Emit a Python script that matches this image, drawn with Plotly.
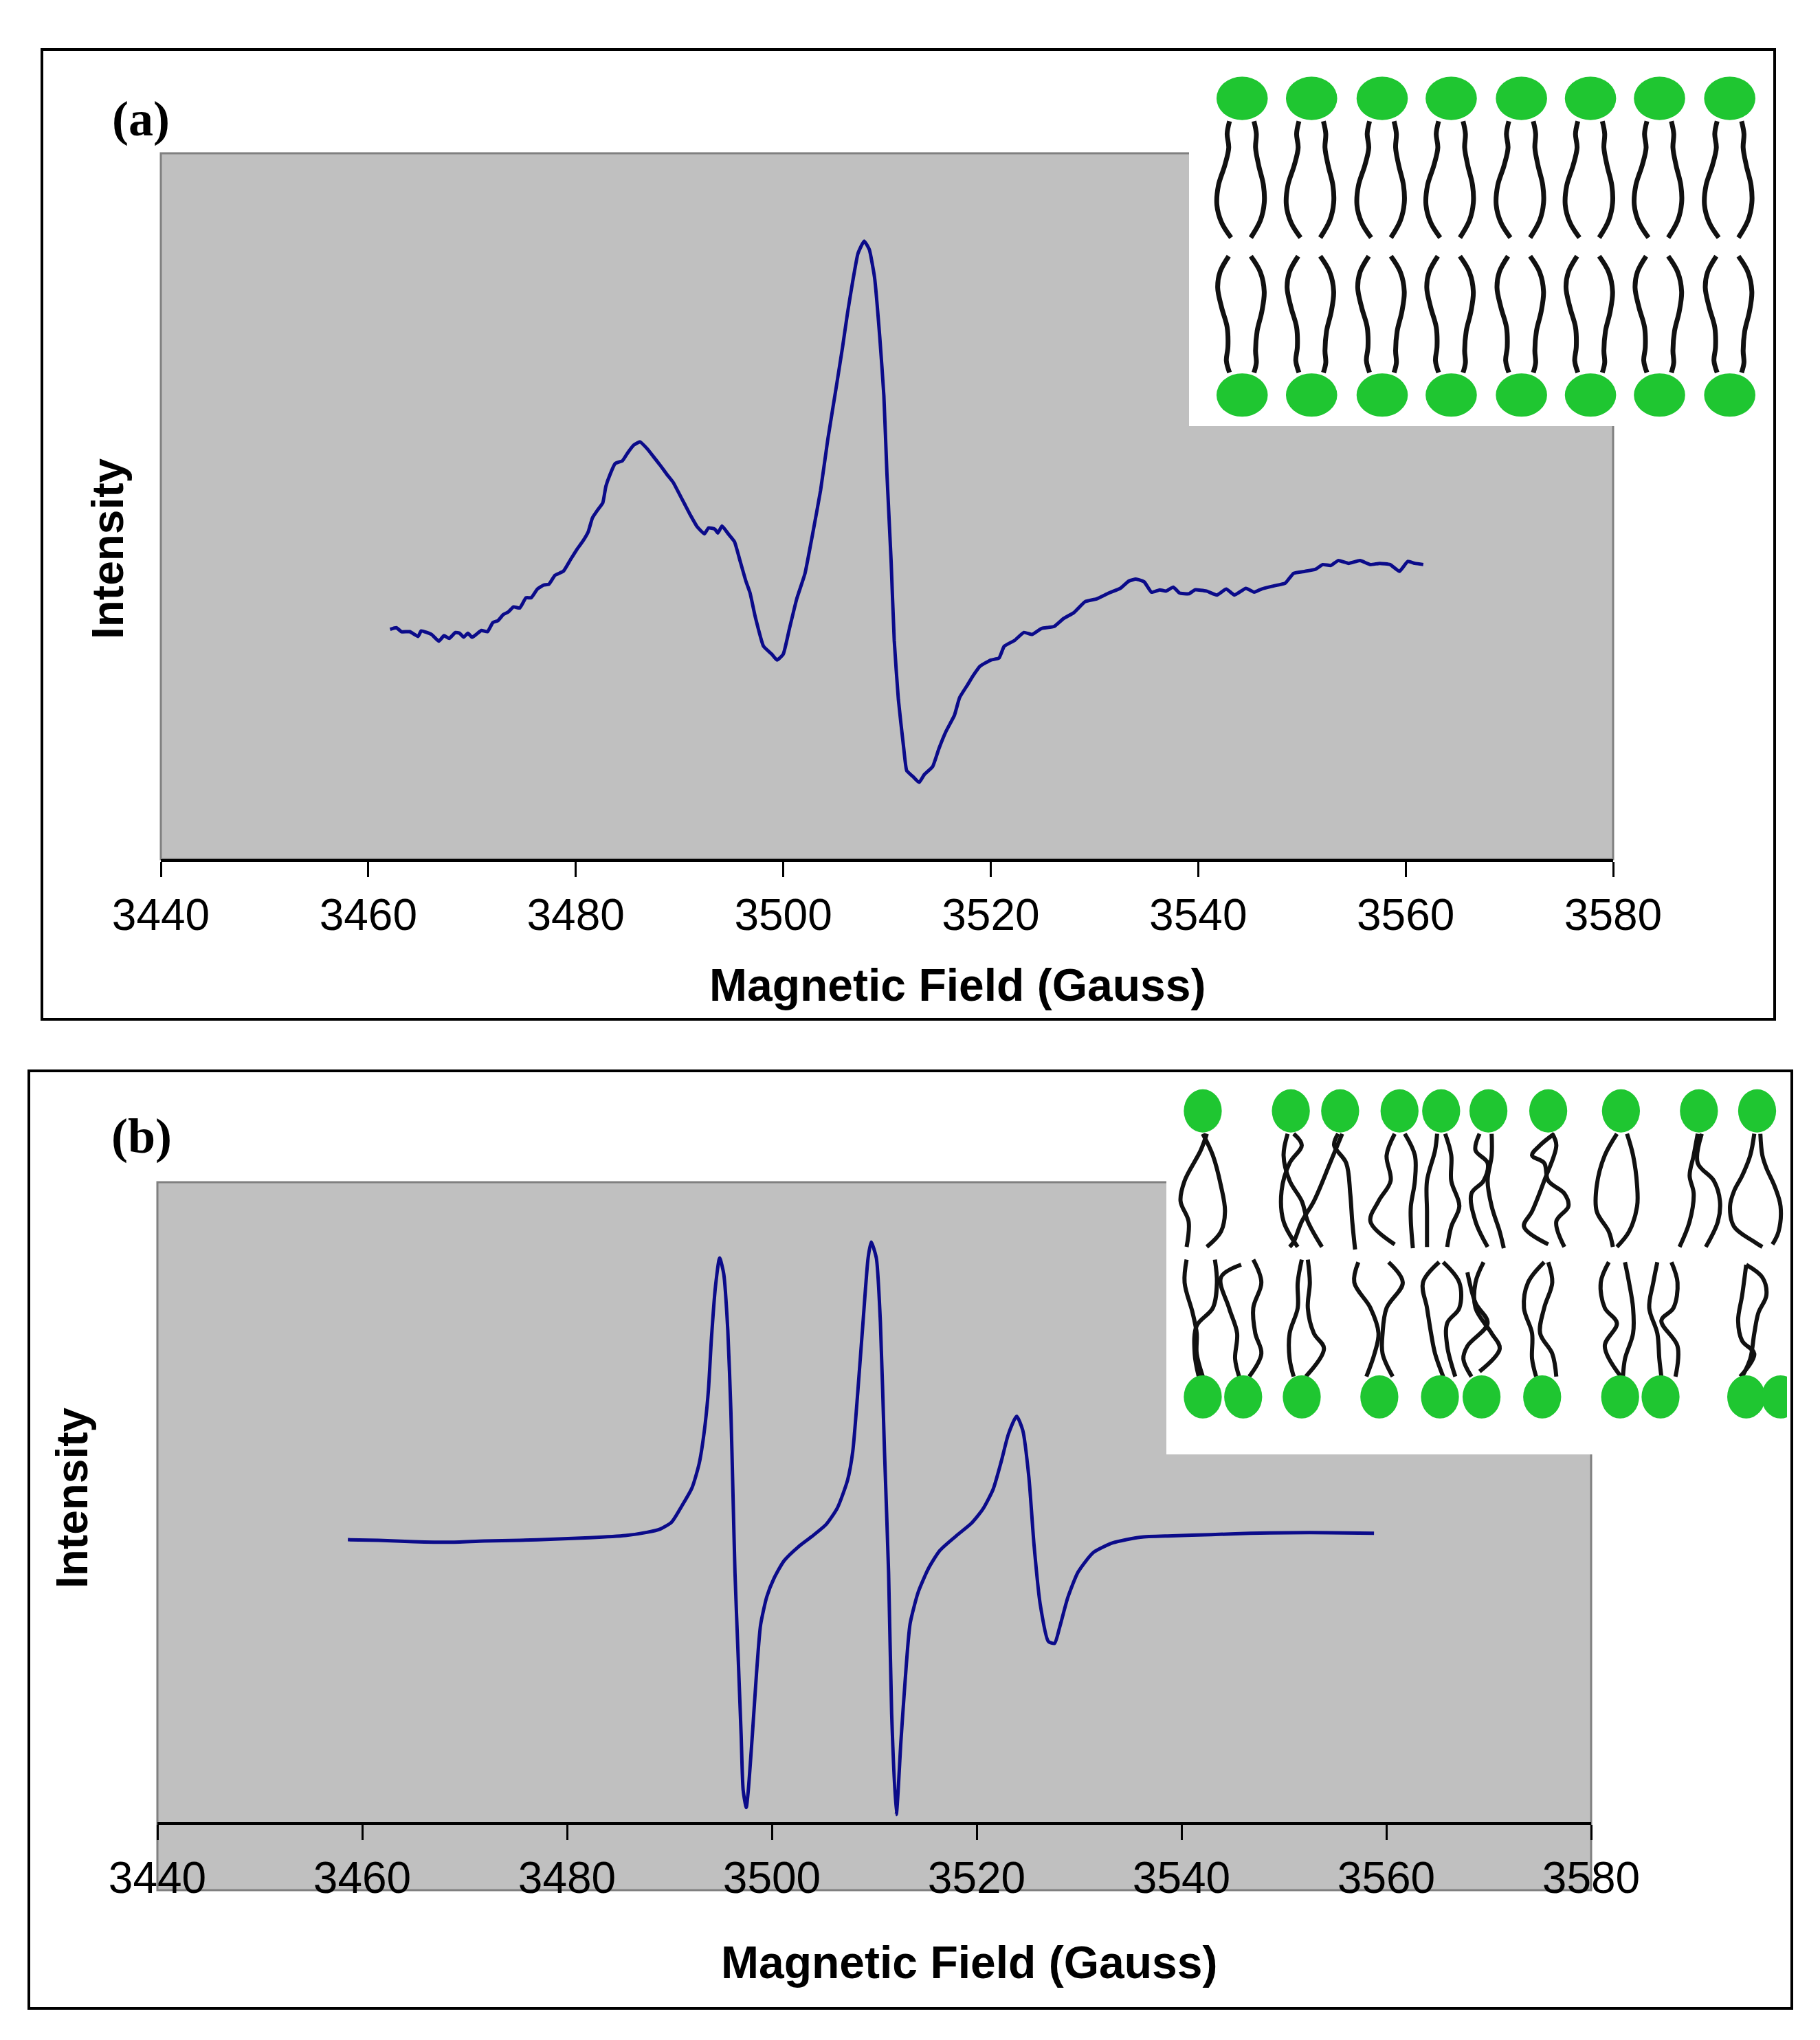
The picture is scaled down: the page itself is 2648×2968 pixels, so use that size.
import plotly.graph_objects as go

# reference canvas (pixels) and page offset of the plot div
W, H = 2648, 2968
OX, OY = 8, 8
FW = W - OX
FH = 2948

# ---- spectrum (a): gel-phase bilayer ----
a_field = [3462.1, 3462.7, 3463.2, 3464.0, 3464.8, 3465.1, 3466.1, 3466.8, 3467.3, 3467.8,
           3468.4, 3468.8, 3469.2, 3469.6, 3470.0, 3470.4, 3470.9, 3471.5, 3472.0, 3472.5,
           3473.0, 3473.5, 3474.0, 3474.6, 3475.2, 3475.7, 3476.3, 3476.9, 3477.4, 3478.0,
           3478.8, 3479.5, 3480.1, 3480.7, 3481.2, 3481.6, 3482.1, 3482.6, 3482.9, 3483.3,
           3483.8, 3484.5, 3485.0, 3485.6, 3486.2, 3486.9, 3487.5, 3488.1, 3488.8, 3489.4,
           3490.0, 3490.5, 3491.1, 3491.7, 3492.4, 3492.8, 3493.4, 3493.7, 3494.1, 3494.7,
           3495.3, 3495.8, 3496.4, 3496.8, 3497.3, 3498.1, 3498.9, 3499.4, 3500.0, 3500.6,
           3501.3, 3502.1, 3502.8, 3503.6, 3504.3, 3505.1, 3505.7, 3506.2, 3506.7, 3507.2,
           3507.8, 3508.3, 3508.8, 3509.3, 3509.7, 3510.0, 3510.4, 3510.7, 3511.1, 3511.6,
           3511.9, 3512.5, 3513.1, 3513.6, 3514.4, 3515.0, 3515.7, 3516.5, 3517.0, 3517.8,
           3518.3, 3519.0, 3520.0, 3520.8, 3521.3, 3522.3, 3523.2, 3524.0, 3524.9, 3526.1,
           3527.0, 3528.0, 3529.1, 3530.2, 3531.4, 3532.5, 3533.3, 3534.0, 3534.8, 3535.5,
           3536.3, 3536.9, 3537.6, 3538.2, 3539.1, 3539.7, 3540.8, 3541.8, 3542.7, 3543.5,
           3544.6, 3545.4, 3546.1, 3547.3, 3548.4, 3549.2, 3550.3, 3551.3, 3552.0, 3552.8,
           3553.5, 3554.5, 3555.6, 3556.6, 3557.5, 3558.5, 3559.4, 3560.2, 3560.9, 3561.7]
a_int = [32.96, 33.19, 32.63, 32.63, 31.96, 32.74, 32.24, 31.29, 32.07, 31.68,
         32.52, 32.41, 31.85, 32.41, 31.85, 32.24, 32.80, 32.63, 33.91, 34.19,
         35.03, 35.42, 36.14, 35.97, 37.42, 37.42, 38.65, 39.21, 39.32, 40.60,
         41.16, 42.83, 44.23, 45.45, 46.73, 48.68, 49.80, 50.80, 53.14, 54.82,
         56.38, 56.77, 57.88, 59.00, 59.44, 58.44, 57.33, 56.21, 54.82, 53.70,
         52.03, 50.64, 48.96, 47.46, 46.45, 47.29, 47.12, 46.57, 47.57, 46.45,
         45.34, 42.83, 39.77, 38.10, 34.75, 30.57, 29.45, 28.62, 29.45, 33.08,
         37.26, 40.88, 46.18, 52.59, 59.83, 67.08, 72.65, 77.67, 82.13, 86.03,
         87.81, 86.59, 82.69, 74.33, 65.97, 54.82, 42.55, 31.40, 23.04, 16.36,
         13.01, 12.17, 11.34, 12.45, 13.57, 16.08, 18.58, 20.81, 23.32, 25.20,
         26.40, 27.78, 28.62, 28.90, 30.57, 31.40, 32.52, 32.24, 33.08, 33.36,
         34.47, 35.31, 36.87, 37.26, 38.10, 38.76, 39.77, 40.05, 39.66, 38.21,
         38.54, 38.37, 38.93, 38.10, 37.98, 38.54, 38.37, 37.81, 38.65, 37.81,
         38.76, 38.21, 38.65, 39.10, 39.49, 40.88, 41.16, 41.44, 42.11, 41.99,
         42.67, 42.28, 42.67, 42.11, 42.28, 42.11, 41.16, 42.55, 42.28, 42.11]

# ---- spectrum (b): fluid bilayer ----
b_field = [3458.6, 3461.6, 3465.0, 3468.5, 3471.9, 3475.4, 3478.8, 3482.2, 3485.7, 3487.8,
           3489.1, 3490.2, 3491.2, 3492.2, 3492.9, 3493.4, 3493.8, 3494.1, 3494.5, 3494.9,
           3495.3, 3495.7, 3496.0, 3496.2, 3496.4, 3496.7, 3497.0, 3497.2, 3497.5, 3497.7,
           3498.1, 3498.5, 3498.9, 3499.5, 3500.2, 3501.2, 3502.6, 3503.9, 3505.3, 3506.4,
           3507.4, 3507.9, 3508.4, 3508.9, 3509.4, 3509.7, 3510.2, 3510.6, 3511.0, 3511.4,
           3511.7, 3512.15, 3512.6, 3513.0, 3513.5, 3514.3, 3515.3, 3516.4, 3518.0, 3519.5,
           3520.6, 3521.6, 3522.4, 3523.1, 3523.9, 3524.5, 3525.1, 3525.6, 3526.2, 3527.0,
           3527.6, 3528.1, 3528.9, 3529.9, 3531.4, 3533.3, 3536.0, 3539.1, 3542.9, 3546.7,
           3550.6, 3554.4, 3558.8]
b_int = [44.4, 44.3, 44.1, 44.0, 44.2, 44.3, 44.5, 44.7, 45.05, 45.56,
         46.07, 47.14, 49.68, 52.54, 56.35, 61.42, 67.77, 76.0, 84.3, 88.7,
         86.2, 77.3, 64.6, 51.9, 39.2, 26.5, 13.8, 5.0, 2.3, 5.0,
         13.8, 23.35, 31.0, 35.4, 38.3, 41.1, 43.3, 44.9, 46.8, 49.4,
         53.8, 58.25, 67.8, 78.55, 88.7, 91.2, 88.7, 78.55, 58.25, 39.2,
         17.0, 1.2, 12.6, 21.9, 31.2, 36.2, 39.9, 42.7, 45.0, 47.0,
         49.2, 52.3, 56.7, 61.0, 63.8, 61.6, 54.2, 43.6, 34.3, 28.4,
         28.1, 30.6, 35.3, 39.3, 42.4, 43.9, 44.8, 45.0, 45.2, 45.4,
         45.5, 45.5, 45.4]

tick_vals = [3440, 3460, 3480, 3500, 3520, 3540, 3560, 3580]

# ---- bilayer sketches (drawing units of each inset) ----
a_heads_x = [152, 328, 507, 682, 860, 1035, 1210, 1388]
a_tail_top_l = [(-32, 168), (-38, 200), (-34, 235), (-44, 280), (-60, 330), (-64, 380), (-52, 425), (-28, 463)]
a_tail_top_r = [(30, 168), (36, 200), (34, 235), (42, 280), (54, 330), (56, 375), (46, 420), (22, 463)]
a_tail_bot_l = [(-34, 510), (-56, 550), (-62, 590), (-52, 640), (-38, 690), (-36, 740), (-40, 775), (-32, 805)]
a_tail_bot_r = [(22, 510), (46, 550), (56, 600), (50, 650), (38, 700), (34, 750), (36, 780), (30, 805)]

b_heads_top = [85, 303, 425, 572, 675, 792, 940, 1120, 1313, 1457]
b_heads_bot = [85, 185, 330, 522, 672, 775, 925, 1118, 1218, 1430, 1515]
b_strands = [
    # upper leaflet
    [(95, 215), (80, 280), (40, 400), (30, 480), (50, 560), (45, 660)],
    [(85, 215), (110, 300), (130, 420), (140, 520), (130, 600), (95, 660)],
    [(295, 215), (285, 300), (300, 400), (330, 480), (345, 560), (380, 660)],
    [(310, 215), (330, 260), (300, 330), (280, 440), (285, 560), (320, 660)],
    [(420, 215), (410, 260), (440, 330), (450, 450), (455, 560), (462, 670)],
    [(430, 215), (400, 330), (360, 480), (330, 560), (310, 640), (300, 660)],
    [(560, 215), (540, 300), (550, 400), (520, 480), (500, 560), (560, 650)],
    [(585, 215), (610, 300), (610, 400), (600, 500), (600, 560), (605, 665)],
    [(665, 215), (660, 280), (640, 400), (640, 520), (640, 660)],
    [(685, 215), (700, 300), (700, 400), (720, 500), (700, 580), (690, 660)],
    [(770, 215), (760, 280), (790, 330), (780, 400), (750, 450), (760, 560), (790, 660)],
    [(800, 215), (800, 300), (790, 400), (800, 500), (820, 600), (830, 665)],
    [(955, 215), (920, 260), (900, 300), (930, 330), (940, 400), (980, 450), (990, 500), (960, 560), (980, 660)],
    [(950, 215), (960, 260), (930, 400), (900, 520), (880, 580), (940, 650)],
    [(1110, 215), (1080, 300), (1060, 420), (1060, 520), (1090, 600), (1100, 660)],
    [(1135, 215), (1150, 300), (1160, 420), (1160, 500), (1140, 600), (1110, 660)],
    [(1310, 215), (1300, 300), (1290, 380), (1300, 450), (1290, 560), (1265, 660)],
    [(1320, 215), (1310, 330), (1350, 400), (1365, 480), (1360, 560), (1330, 660)],
    [(1450, 215), (1440, 300), (1420, 380), (1400, 440), (1390, 500), (1400, 580), (1450, 640), (1470, 660)],
    [(1465, 215), (1470, 300), (1480, 350), (1500, 420), (1515, 500), (1510, 600), (1495, 650)],
    # lower leaflet
    [(45, 710), (40, 800), (60, 920), (70, 1000), (70, 1080), (85, 1170)],
    [(115, 710), (120, 800), (110, 900), (70, 970), (65, 1080), (75, 1170)],
    [(210, 710), (230, 800), (210, 900), (215, 1000), (230, 1080), (200, 1170)],
    [(180, 730), (130, 780), (150, 900), (170, 1000), (165, 1100), (175, 1170)],
    [(330, 710), (320, 800), (320, 900), (300, 1000), (300, 1100), (310, 1170)],
    [(345, 710), (350, 800), (345, 900), (360, 1000), (385, 1060), (340, 1170)],
    [(470, 720), (460, 800), (500, 900), (520, 1000), (510, 1080), (490, 1170)],
    [(545, 720), (580, 800), (540, 900), (530, 1000), (530, 1080), (555, 1170)],
    [(670, 720), (630, 800), (640, 900), (650, 1000), (660, 1080), (680, 1170)],
    [(680, 720), (720, 800), (720, 900), (690, 960), (690, 1050), (710, 1170)],
    [(780, 720), (760, 800), (760, 900), (800, 1000), (820, 1060), (770, 1150)],
    [(740, 760), (760, 880), (790, 960), (740, 1050), (730, 1100), (750, 1170)],
    [(930, 720), (890, 800), (880, 900), (900, 1000), (900, 1100), (910, 1170)],
    [(940, 720), (950, 800), (930, 900), (920, 1000), (950, 1080), (960, 1170)],
    [(1090, 720), (1070, 800), (1080, 900), (1110, 960), (1080, 1050), (1120, 1170)],
    [(1130, 720), (1140, 800), (1150, 900), (1150, 1000), (1130, 1100), (1125, 1170)],
    [(1210, 720), (1200, 800), (1190, 900), (1210, 1000), (1215, 1100), (1220, 1170)],
    [(1245, 720), (1260, 800), (1250, 900), (1220, 950), (1260, 1050), (1255, 1170)],
    [(1430, 730), (1470, 780), (1480, 850), (1460, 920), (1450, 1000), (1440, 1100), (1420, 1170)],
    [(1430, 730), (1420, 850), (1410, 950), (1420, 1030), (1450, 1080), (1415, 1170)],
]

GREEN = '#1FC631'
NAVY = '#0B0B8A'
SANS = 'Liberation Sans, Arial, sans-serif'
SERIF = 'Liberation Serif, Times New Roman, serif'


def px(x):
    return (x - OX) / FW


def py(y):
    return 1 - (y - OY) / FH


fig = go.Figure()

fig.add_trace(go.Scatter(x=a_field, y=a_int, mode='lines',
                         line=dict(color=NAVY, width=5, shape='spline', smoothing=0.4),
                         xaxis='x', yaxis='y', showlegend=False, hoverinfo='skip'))
fig.add_trace(go.Scatter(x=b_field, y=b_int, mode='lines',
                         line=dict(color=NAVY, width=5, shape='spline', smoothing=0.6),
                         xaxis='x2', yaxis='y2', showlegend=False, hoverinfo='skip'))

# ordered bilayer tails
tx, ty = [], []
for xc in a_heads_x:
    for tpl in (a_tail_top_l, a_tail_top_r, a_tail_bot_l, a_tail_bot_r):
        tx += [xc + d for d, _ in tpl] + [None]
        ty += [y for _, y in tpl] + [None]
fig.add_trace(go.Scatter(x=tx, y=ty, mode='lines', line=dict(color='#111111', width=7, shape='spline'),
                         xaxis='x3', yaxis='y3', showlegend=False, hoverinfo='skip'))

# disordered bilayer tails
tx, ty = [], []
for s in b_strands:
    tx += [p[0] for p in s] + [None]
    ty += [p[1] for p in s] + [None]
fig.add_trace(go.Scatter(x=tx, y=ty, mode='lines', line=dict(color='#111111', width=6, shape='spline'),
                         xaxis='x4', yaxis='y4', showlegend=False, hoverinfo='skip'))

shapes = []
# gray plot backgrounds
shapes.append(dict(type='rect', xref='paper', yref='paper', x0=px(234), x1=px(2347), y0=py(1250), y1=py(223),
                   fillcolor='#C0C0C0', line=dict(color='#808080', width=3), layer='below'))
shapes.append(dict(type='rect', xref='paper', yref='paper', x0=px(229), x1=px(2315), y0=py(2750), y1=py(1720),
                   fillcolor='#C0C0C0', line=dict(color='#808080', width=3), layer='below'))
# white inset backgrounds
shapes.append(dict(type='rect', xref='paper', yref='paper', x0=px(1730), x1=px(2578), y0=py(620), y1=py(76),
                   fillcolor='white', line=dict(width=0), layer='below'))
shapes.append(dict(type='rect', xref='paper', yref='paper', x0=px(1697), x1=px(2604), y0=py(2116), y1=py(1562),
                   fillcolor='white', line=dict(width=0), layer='below'))
# panel frames
shapes.append(dict(type='rect', xref='paper', yref='paper', x0=px(61), x1=px(2582), y0=py(1483), y1=py(72),
                   line=dict(color='black', width=4), layer='above'))
shapes.append(dict(type='rect', xref='paper', yref='paper', x0=px(42), x1=px(2607), y0=py(2922), y1=py(1558),
                   line=dict(color='black', width=4), layer='above'))
# lipid heads
for xc in a_heads_x:
    for yc in (110, 862):
        shapes.append(dict(type='circle', xref='x3', yref='y3', x0=xc - 65, x1=xc + 65, y0=yc - 55, y1=yc + 55,
                           fillcolor=GREEN, line=dict(width=0), layer='above'))
for heads, yc in ((b_heads_top, 125), (b_heads_bot, 1250)):
    for xc in heads:
        shapes.append(dict(type='circle', xref='x4', yref='y4', x0=xc - 47, x1=xc + 47, y0=yc - 85, y1=yc + 85,
                           fillcolor=GREEN, line=dict(width=0), layer='above'))

xcommon = dict(range=[3440, 3580], tickvals=tick_vals, ticks='outside', ticklen=22, tickwidth=3,
               tickcolor='black', showline=True, linecolor='black', linewidth=4, showgrid=False,
               zeroline=False, ticklabelstandoff=0, automargin=False,
               tickfont=dict(family=SANS, size=64, color='black'))
hidden = dict(visible=False, showgrid=False, zeroline=False, automargin=False)

fig.update_layout(
    width=FW, height=FH, autosize=False,
    margin=dict(l=0, r=0, t=0, b=0, pad=0, autoexpand=False),
    paper_bgcolor='white', plot_bgcolor='rgba(0,0,0,0)',
    showlegend=False,
    xaxis=dict(domain=[px(234), px(2347)], anchor='y', **xcommon),
    yaxis=dict(domain=[py(1250), py(223)], range=[0.5, 100.2], anchor='x', **hidden),
    xaxis2=dict(domain=[px(229), px(2315)], anchor='y2', **xcommon),
    yaxis2=dict(domain=[py(2651), py(1720)], range=[0, 100.6], anchor='x2', **hidden),
    xaxis3=dict(domain=[px(1720), px(2620)], range=[0, 1568], anchor='y3', **hidden),
    yaxis3=dict(domain=[py(980), py(80)], range=[1568, 0], anchor='x3', **hidden),
    xaxis4=dict(domain=[px(1700), px(2600)], range=[0, 1531], anchor='y4', **hidden),
    yaxis4=dict(domain=[py(2150), py(1570)], range=[1568, 0], anchor='x4', **hidden),
    shapes=shapes,
)

title_font = dict(family=SANS, size=66, color='black')
annotations = [
    dict(text='<b>Magnetic Field (Gauss)</b>', x=px(1393), y=py(1433), font=title_font),
    dict(text='<b>Magnetic Field (Gauss)</b>', x=px(1410), y=py(2855), font=title_font),
    dict(text='<b>Intensity</b>', x=px(157), y=py(798), textangle=-90, font=dict(family=SANS, size=64, color='black')),
    dict(text='<b>Intensity</b>', x=px(105), y=py(2179), textangle=-90, font=dict(family=SANS, size=64, color='black')),
    dict(text='<b>(a)</b>', x=px(205), y=py(173), font=dict(family=SERIF, size=72, color='black')),
    dict(text='<b>(b)</b>', x=px(206), y=py(1653), font=dict(family=SERIF, size=72, color='black')),
]
for a in annotations:
    a.update(xref='paper', yref='paper', showarrow=False, xanchor='center', yanchor='middle')
fig.update_layout(annotations=annotations)

fig.write_html("out.html")
